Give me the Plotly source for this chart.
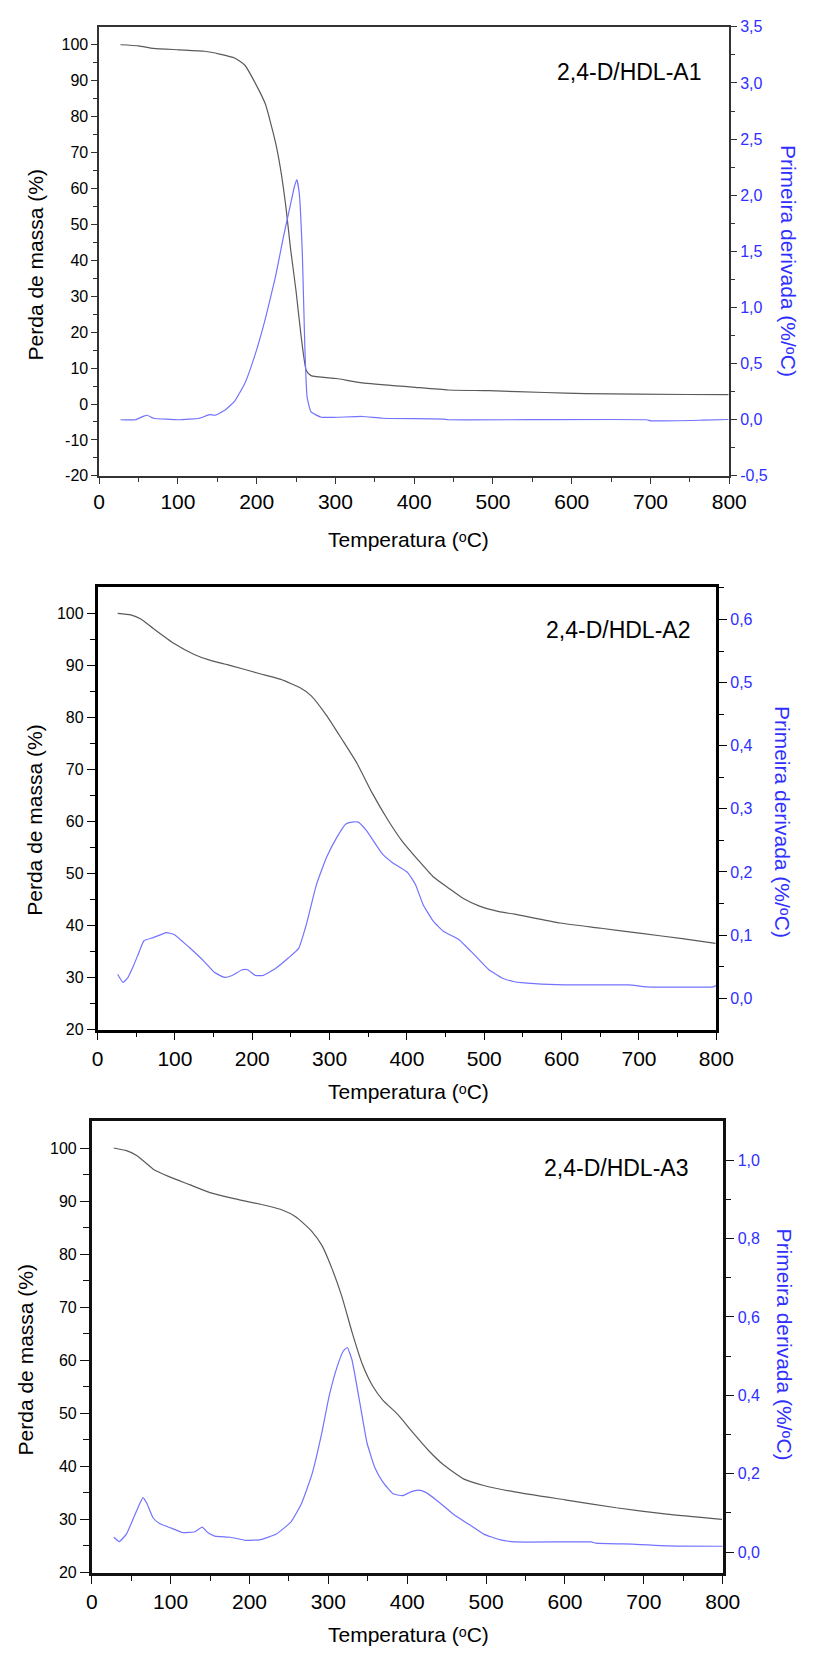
import plotly.graph_objects as go

# ---------------- data: TG (mass %) and DTG (%/°C) vs temperature (°C) ----------------
# 2,4-D/HDL-A1
a1_tg_t = [27, 50, 69, 101, 134, 153, 172, 185, 198, 211, 224, 230, 237, 243, 250, 256, 263,
           269, 301, 334, 398, 443, 495, 566, 618, 747, 799]
a1_tg = [100, 99.7, 99.0, 98.6, 98.2, 97.4, 96.3, 94.3, 89.4, 83.5, 72.7, 65.8, 55, 43.2, 31.4,
         19.6, 9.3, 7.9, 7.1, 5.9, 4.7, 3.9, 3.7, 3.2, 2.9, 2.65, 2.6]
a1_dtg_t = [27, 46, 56, 61, 69, 101, 127, 140, 147, 160, 172, 185, 198, 211, 224, 234, 243, 248,
            251, 254, 258, 261, 264, 269, 282, 301, 334, 360, 437, 443, 695, 701, 766, 799]
a1_dtg = [0.0, 0.0, 0.03, 0.04, 0.013, 0.0, 0.013, 0.045, 0.04, 0.086, 0.166, 0.325, 0.58, 0.9,
          1.28, 1.63, 1.92, 2.08, 2.14, 2.02, 1.47, 0.675, 0.2, 0.07, 0.022, 0.022, 0.029, 0.013,
          0.006, 0.0, 0.0, -0.01, -0.004, 0.002]

# 2,4-D/HDL-A2
a2_tg_t = [26, 43, 56, 72, 99, 125, 145, 171, 210, 237, 263, 276, 296, 316, 335, 355, 375, 394,
           414, 434, 454, 473, 493, 519, 539, 598, 651, 703, 756, 799]
a2_tg = [100, 99.7, 98.9, 97.1, 94.2, 92.1, 91.0, 90.0, 88.4, 87.3, 85.6, 84.2, 80.4, 75.8, 71.3,
         65.5, 60.4, 56.2, 52.7, 49.4, 47.2, 45.2, 43.8, 42.7, 42.2, 40.5, 39.5, 38.5, 37.5, 36.6]
a2_dtg_t = [26, 33, 39, 46, 54, 60, 72, 89, 99, 118, 138, 151, 164, 174, 187, 194, 204, 214, 230,
            247, 260, 270, 283, 296, 309, 321, 329, 337, 348, 368, 381, 401, 411, 421, 434, 447,
            467, 487, 506, 523, 539, 565, 605, 687, 710, 796, 800]
a2_dtg = [0.038, 0.025, 0.032, 0.05, 0.074, 0.091, 0.096, 0.104, 0.101, 0.081, 0.058, 0.041,
          0.033, 0.036, 0.045, 0.045, 0.036, 0.036, 0.047, 0.064, 0.079, 0.117, 0.18, 0.223,
          0.254, 0.276, 0.279, 0.279, 0.265, 0.229, 0.215, 0.199, 0.18, 0.148, 0.122, 0.106,
          0.093, 0.069, 0.045, 0.032, 0.026, 0.023, 0.021, 0.021, 0.018, 0.018, 0.02]

# 2,4-D/HDL-A3
a3_tg_t = [28, 44, 57, 66, 79, 98, 124, 150, 182, 214, 240, 259, 279, 292, 304, 317, 330, 343,
           356, 369, 388, 407, 427, 446, 472, 497, 536, 600, 665, 729, 799]
a3_tg = [100, 99.5, 98.6, 97.5, 95.9, 94.6, 93.1, 91.6, 90.4, 89.4, 88.4, 87.0, 84.3, 81.6, 77.5,
         72.1, 65.3, 59.3, 55.2, 52.5, 49.8, 46.4, 43.0, 40.3, 37.6, 36.4, 35.2, 33.7, 32.2, 31.0,
         30.0]
a3_dtg_t = [28, 35, 44, 53, 61, 65, 70, 78, 86, 105, 115, 131, 140, 147, 156, 176, 195, 214, 234,
            253, 266, 279, 292, 301, 311, 319, 324, 330, 340, 349, 359, 369, 382, 394, 404, 414,
            423, 440, 459, 478, 497, 517, 536, 633, 639, 690, 729, 800]
a3_dtg = [0.038, 0.027, 0.046, 0.087, 0.124, 0.139, 0.124, 0.087, 0.073, 0.058, 0.05, 0.052,
          0.064, 0.05, 0.041, 0.038, 0.03, 0.032, 0.046, 0.078, 0.124, 0.197, 0.307, 0.398,
          0.472, 0.513, 0.522, 0.49, 0.38, 0.279, 0.215, 0.179, 0.149, 0.144, 0.153, 0.158,
          0.153, 0.128, 0.096, 0.071, 0.046, 0.032, 0.026, 0.026, 0.023, 0.02, 0.016, 0.015]

sample_names = ["2,4-D/HDL-A1", "2,4-D/HDL-A2", "2,4-D/HDL-A3"]

# tick labels
x_ticks = [0, 100, 200, 300, 400, 500, 600, 700, 800]
x_ticktext = ["0", "100", "200", "300", "400", "500", "600", "700", "800"]
y1_ticks = [-20, -10, 0, 10, 20, 30, 40, 50, 60, 70, 80, 90, 100]
y1_ticktext = ["-20", "-10", "0", "10", "20", "30", "40", "50", "60", "70", "80", "90", "100"]
y23_ticks = [20, 30, 40, 50, 60, 70, 80, 90, 100]
y23_ticktext = ["20", "30", "40", "50", "60", "70", "80", "90", "100"]
d1_ticks = [-0.5, 0.0, 0.5, 1.0, 1.5, 2.0, 2.5, 3.0, 3.5]
d1_ticktext = ["-0,5", "0,0", "0,5", "1,0", "1,5", "2,0", "2,5", "3,0", "3,5"]
d2_ticks = [0.0, 0.1, 0.2, 0.3, 0.4, 0.5, 0.6]
d2_ticktext = ["0,0", "0,1", "0,2", "0,3", "0,4", "0,5", "0,6"]
d3_ticks = [0.0, 0.2, 0.4, 0.6, 0.8, 1.0]
d3_ticktext = ["0,0", "0,2", "0,4", "0,6", "0,8", "1,0"]

# axis titles (raised small "o" as the degree mark)
x_title = "Temperatura (\u1d52C)"
y_left_title = "Perda de massa (%)"
y_right_title = "Primeira derivada (%/\u1d52C)"

# ---------------- layout helpers ----------------
W, H = 821, 1660
FONT = "Liberation Sans, Arial, DejaVu Sans, sans-serif"
GRAY = "#5a5a5a"
BLUE_LINE = "#7373ff"
BLUE_TXT = "#2f2fff"


def px_x(px):
    return px / W


def px_y(py):
    return 1 - py / H


# plot boxes in pixels: (left, top, right, bottom)
boxes = [(96, 19, 745, 472.7), (94.3, 585.3, 731.7, 1032.3), (88.3, 1125, 738.3, 1580.7)]
axis_colors = ["#333333", "#000000", "#111111"]
axis_widths = [1.5, 2.5, 2.5]
major_len = [6, 8, 9]
minor_len = [4, 5, 6]
left_ranges = [[-20, 105], [20, 105], [20, 105]]
right_ranges = [[-0.5, 3.5], [-0.05, 0.651], [-0.052, 1.0985]]
left_ticks = [(y1_ticks, y1_ticktext), (y23_ticks, y23_ticktext), (y23_ticks, y23_ticktext)]
right_ticks = [(d1_ticks, d1_ticktext, 0.25), (d2_ticks, d2_ticktext, 0.05),
               (d3_ticks, d3_ticktext, 0.1)]
tg_sets = [(a1_tg_t, a1_tg), (a2_tg_t, a2_tg), (a3_tg_t, a3_tg)]
dtg_sets = [(a1_dtg_t, a1_dtg), (a2_dtg_t, a2_dtg), (a3_dtg_t, a3_dtg)]
xtitle_y = [537, 1095, 1643]
ytitle_left = [(30, 260), (29, 821), (20, 1366)]
ytitle_right = [(806, 256), (800, 822), (802, 1350)]
sample_pos = [(718, 65), (707, 628), (705, 1172)]

fig = go.Figure()
layout = dict(
    width=W, height=H, margin=dict(l=0, r=0, t=0, b=0),
    paper_bgcolor="white", plot_bgcolor="white", showlegend=False,
    font=dict(family=FONT, color="#000000"),
)
annotations = []

for i in range(3):
    l, t, r, b = boxes[i]
    xa = "xaxis" if i == 0 else f"xaxis{i + 1}"
    ya = f"yaxis{2 * i + 1}" if i > 0 else "yaxis"
    yb = f"yaxis{2 * i + 2}"
    xref = "x" if i == 0 else f"x{i + 1}"
    yref_l = "y" if i == 0 else f"y{2 * i + 1}"
    yref_r = f"y{2 * i + 2}"

    lc, lw = axis_colors[i], axis_widths[i]
    mj, mn = major_len[i], minor_len[i]
    layout[xa] = dict(
        domain=[px_x(l), px_x(r)], anchor=yref_l, range=[0, 800],
        showline=True, linecolor=lc, linewidth=lw, mirror=True, showgrid=False, zeroline=False,
        tickmode="array", tickvals=x_ticks, ticktext=x_ticktext,
        ticks="outside", ticklen=mj, tickwidth=1.3, tickcolor=lc,
        minor=dict(tickmode="array", tickvals=[50, 150, 250, 350, 450, 550, 650, 750],
                   ticks="outside", ticklen=mn, tickwidth=1.3, tickcolor=lc),
        tickfont=dict(size=21, family=FONT, color="#000000"),
    )
    yt, ytt = left_ticks[i]
    layout[ya] = dict(
        domain=[px_y(b), px_y(t)], anchor=xref, range=left_ranges[i],
        showline=True, linecolor=lc, linewidth=lw, showgrid=False, zeroline=False,
        tickmode="array", tickvals=yt, ticktext=ytt,
        ticks="outside", ticklen=mj, tickwidth=1.3, tickcolor=lc,
        minor=dict(tickmode="array", tickvals=[v + 5 for v in yt[:-1]],
                   ticks="outside", ticklen=mn, tickwidth=1.3, tickcolor=lc),
        tickfont=dict(size=16, family=FONT, color="#000000"),
    )
    dt, dtt, dminor = right_ticks[i]
    minor_vals = [round(dt[0] + dminor * k, 3) for k in range(1, int(round((dt[-1] - dt[0]) / dminor)) + 2)]
    minor_vals = [v for v in minor_vals if all(abs(v - m) > 1e-6 for m in dt)]
    layout[yb] = dict(
        overlaying=yref_l, side="right", anchor=xref, range=right_ranges[i],
        showline=True, linecolor=lc, linewidth=lw, showgrid=False, zeroline=False,
        tickmode="array", tickvals=dt, ticktext=dtt,
        ticks="outside", ticklen=mj, tickwidth=1.3, tickcolor=lc,
        minor=dict(tickmode="array", tickvals=minor_vals,
                   ticks="outside", ticklen=mn, tickwidth=1.3, tickcolor=lc),
        tickfont=dict(size=16, family=FONT, color=BLUE_TXT),
    )

    tx, ty = tg_sets[i]
    fig.add_trace(go.Scatter(x=tx, y=ty, mode="lines", xaxis=xref, yaxis=yref_l,
                             line=dict(color=GRAY, width=1.2, shape="spline", smoothing=0.5)))
    dx, dy = dtg_sets[i]
    fig.add_trace(go.Scatter(x=dx, y=dy, mode="lines", xaxis=xref, yaxis=yref_r,
                             line=dict(color=BLUE_LINE, width=1.2, shape="spline", smoothing=0.4)))

    # axis titles and sample label
    annotations.append(dict(
        text=x_title, xref="paper", yref="paper",
        x=px_x(415), y=px_y(xtitle_y[i]), xanchor="center", yanchor="middle",
        showarrow=False, font=dict(size=21, family=FONT, color="#000000")))
    annotations.append(dict(
        text=y_left_title, xref="paper", yref="paper", textangle=-90,
        x=px_x(ytitle_left[i][0]), y=px_y(ytitle_left[i][1]), xanchor="center", yanchor="middle",
        showarrow=False, font=dict(size=21, family=FONT, color="#000000")))
    annotations.append(dict(
        text=y_right_title, xref="paper", yref="paper", textangle=90,
        x=px_x(ytitle_right[i][0]), y=px_y(ytitle_right[i][1]), xanchor="center", yanchor="middle",
        showarrow=False, font=dict(size=21, family=FONT, color=BLUE_TXT)))
    annotations.append(dict(
        text=sample_names[i], xref="paper", yref="paper",
        x=px_x(sample_pos[i][0]), y=px_y(sample_pos[i][1]), xanchor="right", yanchor="middle",
        showarrow=False, font=dict(size=23, family=FONT, color="#000000")))

layout["annotations"] = annotations
fig.update_layout(**layout)
fig.write_html("out.html")
